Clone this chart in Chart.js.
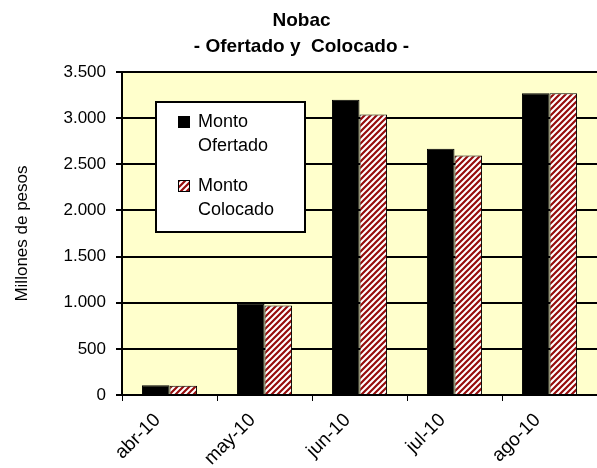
<!DOCTYPE html>
<html>
<head>
<meta charset="utf-8">
<script src="https://cdn.jsdelivr.net/npm/chart.js@4/dist/chart.umd.min.js"></script>
<style>
  html, body { margin: 0; padding: 0; background: #fff; }
  #wrap { width: 597px; height: 468px; }
</style>
</head>
<body>
<div id="wrap"><canvas id="chart" width="597" height="468"></canvas></div>
<script>
const months = ['abr-10', 'may-10', 'jun-10', 'jul-10', 'ago-10'];
const ofertado = [105, 990, 3200, 2670, 3270];
const colocado = [100, 970, 3040, 2595, 3270];
const yTicks = [0, 500, 1000, 1500, 2000, 2500, 3000, 3500];

const FONT = '"Liberation Sans", Arial, sans-serif';

// diagonal red stripes on white, like the Excel pattern fill
function makeHatch() {
  const s = 6;
  const c = document.createElement('canvas');
  c.width = s; c.height = s;
  const g = c.getContext('2d');
  g.fillStyle = '#ffffff';
  g.fillRect(0, 0, s, s);
  g.strokeStyle = '#960c0c';
  g.lineWidth = 2.2;
  g.beginPath();
  g.moveTo(-1, s + 1); g.lineTo(s + 1, -1);
  g.moveTo(-1, 1); g.lineTo(1, -1);
  g.moveTo(s - 1, s + 1); g.lineTo(s + 1, s - 1);
  g.stroke();
  return g.createPattern(c, 'repeat');
}

const ctx = document.getElementById('chart').getContext('2d');
const hatch = makeHatch();

const plotBack = {
  id: 'plotBack',
  beforeDraw(chart) {
    const a = chart.chartArea;
    const c = chart.ctx;
    c.save();
    c.fillStyle = '#ffffcc';
    c.fillRect(a.left, a.top, a.right - a.left, a.bottom - a.top);
    c.strokeStyle = '#808080';
    c.lineWidth = 2;
    c.beginPath();
    c.moveTo(a.left, a.top);
    c.lineTo(a.right, a.top);
    c.stroke();
    c.restore();
  }
};

// boxed legend with the labels wrapped on two lines
const boxLegend = {
  id: 'boxLegend',
  afterDraw(chart) {
    const c = chart.ctx;
    c.save();
    c.fillStyle = '#ffffff';
    c.fillRect(156, 102, 149, 130);
    c.strokeStyle = '#000000';
    c.lineWidth = 2;
    c.strokeRect(156, 102, 149, 130);
    c.font = '18px ' + FONT;
    c.textBaseline = 'middle';
    const rows = [122, 186];
    chart.data.datasets.forEach((ds, i) => {
      const y = rows[i];
      c.fillStyle = ds.backgroundColor;
      c.fillRect(178, y - 6, 12, 12);
      c.strokeStyle = '#000';
      c.lineWidth = 1;
      c.strokeRect(178.5, y - 5.5, 11, 11);
      c.fillStyle = '#000';
      const words = ds.label.split(' ');
      c.fillText(words[0], 198, y);
      c.fillText(words[1], 198, y + 24);
    });
    c.restore();
  }
};

new Chart(ctx, {
  type: 'bar',
  data: {
    labels: months,
    datasets: [
      {
        label: 'Monto Ofertado',
        data: ofertado,
        backgroundColor: '#000000',
        borderColor: '#000000',
        borderWidth: 1
      },
      {
        label: 'Monto Colocado',
        data: colocado,
        backgroundColor: hatch,
        borderColor: '#000000',
        borderWidth: 1
      }
    ]
  },
  options: {
    responsive: false,
    animation: false,
    layout: { padding: { top: 5, right: 0, left: 6, bottom: 0 } },
    datasets: {
      bar: { categoryPercentage: 0.58, barPercentage: 1.0 }
    },
    plugins: {
      legend: { display: false },
      tooltip: { enabled: false },
      title: {
        display: true,
        text: ['Nobac', '- Ofertado y  Colocado -'],
        color: '#000',
        font: { family: FONT, size: 19, weight: 'bold', lineHeight: 1.37 },
        padding: { top: 3, bottom: 12 }
      }
    },
    scales: {
      x: {
        offset: true,
        afterFit(axis) { axis.height = 73; },
        grid: {
          offset: true,
          drawOnChartArea: false,
          drawTicks: true,
          tickLength: 6,
          color: '#000'
        },
        border: { color: '#000', width: 2 },
        ticks: {
          color: '#000',
          minRotation: 45,
          maxRotation: 45,
          padding: 8,
          labelOffset: -12,
          font: { family: FONT, size: 19 }
        }
      },
      y: {
        min: 0,
        max: 3500,
        afterFit(axis) { axis.width = 116; },
        afterBuildTicks(axis) {
          axis.ticks = yTicks.map(v => ({ value: v }));
        },
        grid: {
          color: '#000',
          lineWidth: 2,
          tickLength: 6
        },
        border: { color: '#000', width: 2 },
        ticks: {
          color: '#000',
          padding: 10,
          font: { family: FONT, size: 17 },
          callback: v => v.toLocaleString('de-DE')
        },
        title: {
          display: true,
          text: 'Millones de pesos',
          color: '#000',
          padding: { top: 6, bottom: 0 },
          font: { family: FONT, size: 17 }
        }
      }
    }
  },
  plugins: [plotBack, boxLegend]
});
</script>
</body>
</html>
